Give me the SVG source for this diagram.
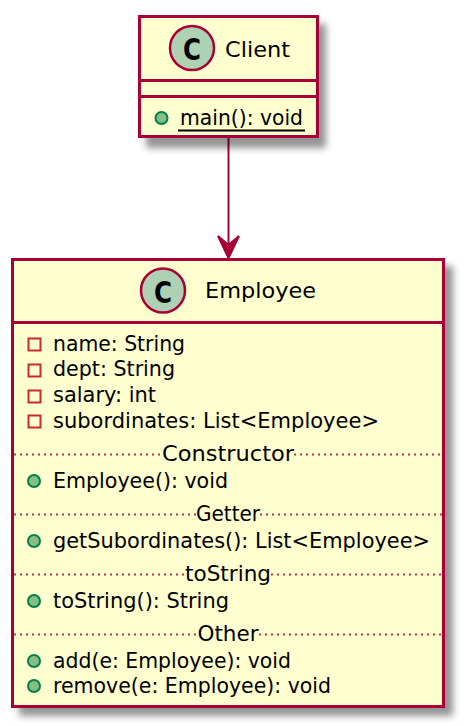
<svg xmlns="http://www.w3.org/2000/svg" width="464" height="726" viewBox="0 0 464 726">
<style>
text{font-family:"DejaVu Sans","Liberation Sans",sans-serif;font-size:22px;fill:#000}
.box{fill:#FEFECE;stroke:#A80036;stroke-width:3}
.div{stroke:#A80036;stroke-width:3;fill:none}
.dot{stroke:#A80036;stroke-width:2;stroke-dasharray:2 4;stroke-opacity:.8;fill:none}
.badge{fill:#ADD1B2;stroke:#A80036;stroke-width:2.5}
.pub{fill:#84BE84;stroke:#038048;stroke-width:2}
.pri{fill:none;stroke:#C82930;stroke-width:2}
.c{font-weight:bold;font-size:31px}
.m{text-anchor:middle}
</style>
<defs>
<filter id="sh" x="-10%" y="-10%" width="125%" height="125%"><feGaussianBlur stdDeviation="3.5"/></filter>
</defs>
<g id="connectors">
<path d="M228.500 138V254" fill="none" stroke="#A80036" stroke-width="2"/>
<path d="M228.500 258L218 236L228.500 245L239 236Z" fill="#A80036" stroke="#A80036" stroke-width="2"/>
</g>
<g id="Client">
<rect x="146" y="24" width="180" height="124" fill="#000" fill-opacity=".42" filter="url(#sh)"/>
<rect class="box" x="139.500" y="16.500" width="178" height="120"/>
<path class="div" d="M139.500 80.500H317.500M139.500 96.500H317.500"/>
<circle class="badge" cx="192" cy="48" r="22"/>
<text class="c" x="183" y="60" textLength="18" lengthAdjust="spacingAndGlyphs">C</text>
<text x="225" y="57" textLength="65" lengthAdjust="spacingAndGlyphs">Client</text>
<circle class="pub" cx="161.500" cy="118" r="6"/>
<text x="180" y="125" textLength="123" lengthAdjust="spacingAndGlyphs">main(): void</text>
<path d="M178 130.500H305" stroke="#000" stroke-width="2" fill="none"/>
</g>
<g id="Employee">
<rect x="19" y="266" width="434" height="450" fill="#000" fill-opacity=".42" filter="url(#sh)"/>
<rect class="box" x="12.500" y="259.500" width="431" height="447"/>
<path class="div" d="M12.500 322.500H443.500"/>
<circle class="badge" cx="163" cy="290.500" r="22"/>
<text class="c" x="154" y="302.500" textLength="18" lengthAdjust="spacingAndGlyphs">C</text>
<text x="205" y="298" textLength="111" lengthAdjust="spacingAndGlyphs">Employee</text>
<rect class="pri" x="28.500" y="338.500" width="12" height="12"/>
<text x="53" y="351" textLength="132" lengthAdjust="spacingAndGlyphs">name: String</text>
<rect class="pri" x="28.500" y="364.500" width="12" height="12"/>
<text x="53" y="376" textLength="122" lengthAdjust="spacingAndGlyphs">dept: String</text>
<rect class="pri" x="28.500" y="390.500" width="12" height="12"/>
<text x="53" y="402" textLength="103" lengthAdjust="spacingAndGlyphs">salary: int</text>
<rect class="pri" x="28.500" y="415.500" width="12" height="12"/>
<text x="53" y="428" textLength="326" lengthAdjust="spacingAndGlyphs">subordinates: List&lt;Employee&gt;</text>
<path class="dot" d="M14 454.500H162M294 454.500H442"/>
<text class="m" x="228" y="461" textLength="132" lengthAdjust="spacingAndGlyphs">Constructor</text>
<circle class="pub" cx="34" cy="481" r="6"/>
<text x="53" y="488" textLength="175" lengthAdjust="spacingAndGlyphs">Employee(): void</text>
<path class="dot" d="M14 514.500H196M260 514.500H442"/>
<text class="m" x="228" y="521" textLength="64" lengthAdjust="spacingAndGlyphs">Getter</text>
<circle class="pub" cx="34" cy="541" r="6"/>
<text x="53" y="548" textLength="377" lengthAdjust="spacingAndGlyphs">getSubordinates(): List&lt;Employee&gt;</text>
<path class="dot" d="M14 574.500H185M271 574.500H442"/>
<text class="m" x="228" y="581" textLength="86" lengthAdjust="spacingAndGlyphs">toString</text>
<circle class="pub" cx="34" cy="601" r="6"/>
<text x="53" y="608" textLength="176" lengthAdjust="spacingAndGlyphs">toString(): String</text>
<path class="dot" d="M14 634.500H198M259 634.500H442"/>
<text class="m" x="228" y="641" textLength="61" lengthAdjust="spacingAndGlyphs">Other</text>
<circle class="pub" cx="34" cy="661" r="6"/>
<text x="53" y="668" textLength="238" lengthAdjust="spacingAndGlyphs">add(e: Employee): void</text>
<circle class="pub" cx="34" cy="686" r="6"/>
<text x="53" y="693" textLength="278" lengthAdjust="spacingAndGlyphs">remove(e: Employee): void</text>
</g>
</svg>
